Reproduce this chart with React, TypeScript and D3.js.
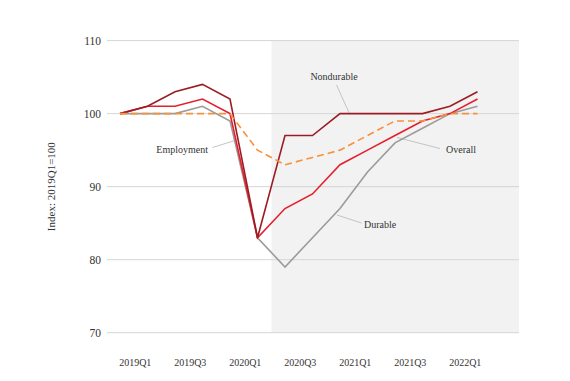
import React from "react";
import * as d3 from "d3";

const quarters = ["2019Q1","2019Q2","2019Q3","2019Q4","2020Q1","2020Q2","2020Q3","2020Q4","2021Q1","2021Q2","2021Q3","2021Q4","2022Q1","2022Q2"];
const tickLabels = ["2019Q1","2019Q3","2020Q1","2020Q3","2021Q1","2021Q3","2022Q1"];
const yTicks = [70, 80, 90, 100, 110];
const nondurable = [100, 101, 103, 104, 102, 83, 97, 97, 100, 100, 100, 100, 101, 103];
const overall = [100, 101, 101, 102, 100, 83, 87, 89, 93, 95, 97, 99, 100, 102];
const durable = [100, 100, 100, 101, 99, 83, 79, 83, 87, 92, 96, 98, 100, 101];
const employment = [100, 100, 100, 100, 100, 95, 93, 94, 95, 97, 99, 99, 100, 100];
const shadeStart = "2020Q2";

const W = 570, H = 381;
const FONT = "'Liberation Serif', 'DejaVu Serif', serif";

export default function App() {
  const x = d3.scalePoint<string>().domain(quarters).range([120, 477.5]);
  const step = x.step();
  const y = d3.scaleLinear().domain([70, 110]).range([332.7, 40.6]);
  const gx0 = 107, gx1 = 519;
  const line = (vals: number[]) =>
    d3.line<number>().x((_, i) => x(quarters[i])!).y((v) => y(v))(vals)!;

  const series = [
    { vals: durable, color: "#9b9b9b", dash: undefined },
    { vals: overall, color: "#e3202b", dash: undefined },
    { vals: nondurable, color: "#9c1c24", dash: undefined },
    { vals: employment, color: "#f7913a", dash: "7,4" },
  ];

  const shadeX = x(shadeStart)! + 14;

  const annotations = [
    { text: "Nondurable", tx: 334, ty: 80, anchor: "middle", x1: 336.5, y1: 85, x2: 349, y2: y(100) - 1 },
    { text: "Employment", tx: 208, ty: 153, anchor: "end", x1: 212.5, y1: 147.5, x2: 236.5, y2: 140 },
    { text: "Overall", tx: 446, ty: 152.5, anchor: "start", x1: 440, y1: 148.5, x2: 397, y2: 137.5 },
    { text: "Durable", tx: 364, ty: 227.5, anchor: "start", x1: 361.5, y1: 223, x2: 337, y2: 215 },
  ];

  return (
    <svg width={W} height={H} style={{ position: "absolute", left: 0, top: 0, background: "#fff" }}>
      <rect x={shadeX} y={y(110)} width={gx1 - shadeX} height={y(70) - y(110)} fill="#f2f2f2" />
      {yTicks.map((t) => (
        <g key={t}>
          <line x1={gx0} x2={gx1} y1={y(t)} y2={y(t)} stroke="#d6d6d6" strokeWidth={1} />
          <text x={101} y={y(t) + 4} textAnchor="end" fontFamily={FONT} fontSize={11.5} fill="#333">{t}</text>
        </g>
      ))}
      {tickLabels.map((q) => (
        <text key={q} x={x(q)! + step / 2 + 1.5} y={366} textAnchor="middle" fontFamily={FONT} fontSize={10} fill="#333">{q}</text>
      ))}
      <text transform={`translate(55,${(y(70) + y(110)) / 2}) rotate(-90)`} textAnchor="middle" fontFamily={FONT} fontSize={11} fill="#333">Index: 2019Q1=100</text>
      {annotations.map((a) => (
        <line key={a.text + "l"} x1={a.x1} y1={a.y1} x2={a.x2} y2={a.y2} stroke="#c4c4c4" strokeWidth={1} />
      ))}
      {series.map((s, i) => (
        <path key={i} d={line(s.vals)} fill="none" stroke={s.color} strokeWidth={1.6} strokeDasharray={s.dash} strokeLinejoin="miter" />
      ))}
      {annotations.map((a) => (
        <text key={a.text} x={a.tx} y={a.ty} textAnchor={a.anchor as any} fontFamily={FONT} fontSize={10} fill="#333">{a.text}</text>
      ))}
    </svg>
  );
}
